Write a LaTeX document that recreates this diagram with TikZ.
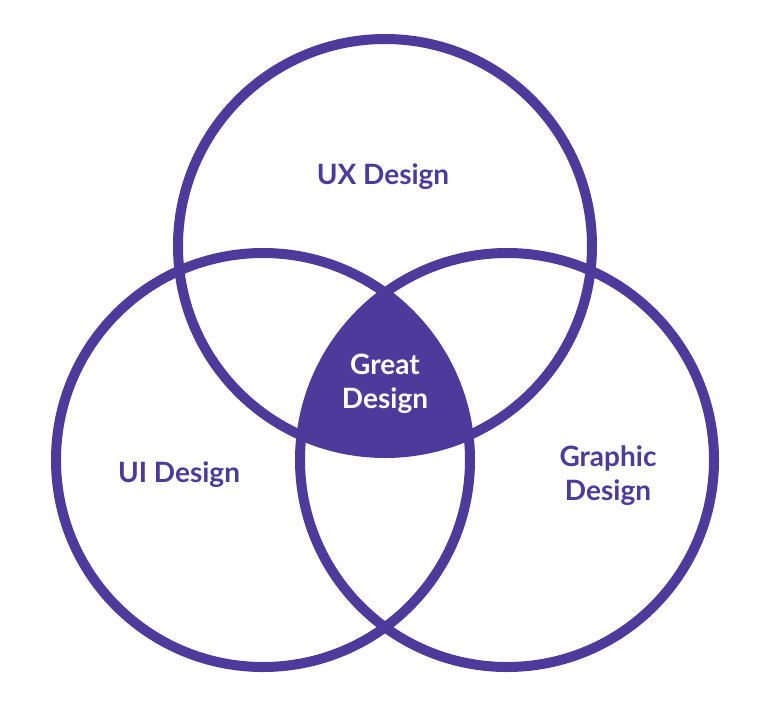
\documentclass[tikz,border=0pt]{standalone}
\usepackage{fontspec}
\setmainfont{Lato}
\definecolor{venn}{RGB}{76,59,154}

\begin{document}
\begin{tikzpicture}[x=1pt, y=-1pt, ring/.style={draw=venn, line width=10pt}, label text/.style={text=venn, font=\fontsize{28}{34}\selectfont\bfseries, align=center}]
\useasboundingbox (0,0) rectangle (768,705);
\coordinate (ux)  at (385,246);
\coordinate (ui)  at (263,460);
\coordinate (gr)  at (507,460);

% centre region
\begin{scope}
\clip (ux) circle (207);
\clip (ui) circle (207);
\fill[venn] (gr) circle (207);
\end{scope}

\draw[ring] (ux) circle (207);
\draw[ring] (ui) circle (207);
\draw[ring] (gr) circle (207);

\node[label text]             (uxlabel)    at (383,177) {UX Design};
\node[label text]             (uilabel)    at (179,475) {UI Design};
\node[label text]             (grlabel)    at (608,476) {Graphic\\Design};
\node[label text, text=white] (greatlabel) at (385,384) {Great\\Design};
\end{tikzpicture}
\end{document}
